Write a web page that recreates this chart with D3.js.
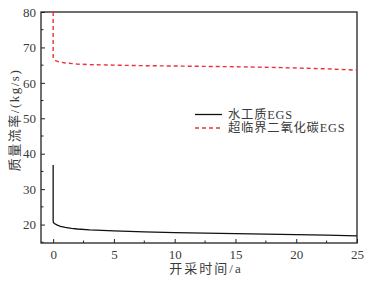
<!DOCTYPE html>
<html><head><meta charset="utf-8">
<script src="https://cdn.jsdelivr.net/npm/d3@7"></script>
<style>body{margin:0;background:#fff}svg{display:block}</style>
</head><body><div id="c"></div>
<script>
const xTicks = [0, 5, 10, 15, 20, 25];
const yTicks = [20, 30, 40, 50, 60, 70, 80];
const seriesNames = ["水工质EGS", "超临界二氧化碳EGS"];
const waterT = [0, 0, 0.02, 0.1, 0.3, 0.6, 1, 1.5, 2, 3, 5, 7.5, 10, 12.5, 15, 17.5, 20, 22.5, 25];
const waterV = [36.8, 21.2, 20.6, 20.3, 19.9, 19.5, 19.2, 18.95, 18.75, 18.5, 18.2, 17.95, 17.75, 17.6, 17.45, 17.3, 17.15, 17.0, 16.8];
const co2T = [0, 0, 0.05, 0.2, 0.5, 1, 2, 3, 5, 7.5, 10, 12.5, 15, 17.5, 20, 22.5, 25];
const co2V = [80, 67.2, 66.8, 66.3, 65.9, 65.6, 65.3, 65.15, 65.0, 64.85, 64.75, 64.65, 64.55, 64.4, 64.2, 63.95, 63.6];

const W = 372, H = 281;
const m = {l: 41, r: 15, t: 12, b: 38};
const svg = d3.select("#c").append("svg").attr("width", W).attr("height", H);
const x = d3.scaleLinear().domain([-1, 25]).range([m.l, W - m.r]);
const y = d3.scaleLinear().domain([14.8, 80]).range([H - m.b, m.t]);
const font = "'Liberation Serif','Noto Sans CJK SC',serif";
const txt = "#3a3a3a";

svg.append("defs").append("clipPath").attr("id", "cp").append("rect")
  .attr("x", m.l).attr("y", m.t).attr("width", W - m.l - m.r).attr("height", H - m.t - m.b);

// frame
svg.append("rect").attr("x", m.l).attr("y", m.t).attr("width", W - m.l - m.r).attr("height", H - m.t - m.b)
  .attr("fill", "none").attr("stroke", "#222").attr("stroke-width", 1.3);

// x axis
const xa = svg.append("g").attr("transform", `translate(0,${H - m.b})`)
  .call(d3.axisBottom(x).tickValues(xTicks).tickSize(-4).tickPadding(7).tickFormat(d3.format("d")));
xa.select(".domain").remove();
xa.selectAll("text").attr("font-family", font).attr("font-size", 13).attr("fill", txt);
xa.selectAll("line").attr("stroke", "#222");
const xMinor = d3.range(2.5, 25, 5);
svg.append("g").selectAll("line").data(xMinor).join("line")
  .attr("x1", d => x(d)).attr("x2", d => x(d)).attr("y1", H - m.b).attr("y2", H - m.b - 2.5).attr("stroke", "#222");

// y axis
const ya = svg.append("g").attr("transform", `translate(${m.l},0)`)
  .call(d3.axisLeft(y).tickValues(yTicks).tickSize(-4).tickPadding(5).tickFormat(d3.format("d")));
ya.select(".domain").remove();
ya.selectAll("text").attr("font-family", font).attr("font-size", 13).attr("fill", txt);
ya.selectAll("line").attr("stroke", "#222");
const yMinor = d3.range(15, 80, 10);
svg.append("g").selectAll("line").data(yMinor).join("line")
  .attr("x1", m.l).attr("x2", m.l + 2.5).attr("y1", d => y(d)).attr("y2", d => y(d)).attr("stroke", "#222");

// lines
const line = d3.line().x(d => x(d[0])).y(d => y(d[1]));
const g = svg.append("g").attr("clip-path", "url(#cp)");
g.append("path").datum(waterT.map((t, i) => [t, waterV[i]]))
  .attr("d", line).attr("fill", "none").attr("stroke", "#111").attr("stroke-width", 1.3);
g.append("path").datum(co2T.map((t, i) => [t, co2V[i]]))
  .attr("d", line).attr("fill", "none").attr("stroke", "#e8333a").attr("stroke-width", 1.4)
  .attr("stroke-dasharray", "4,3");

// legend
const lg = svg.append("g");
lg.append("line").attr("x1", 195).attr("x2", 222).attr("y1", 114.5).attr("y2", 114.5)
  .attr("stroke", "#111").attr("stroke-width", 1.3);
lg.append("line").attr("x1", 195).attr("x2", 222).attr("y1", 128).attr("y2", 128)
  .attr("stroke", "#e8333a").attr("stroke-width", 1.4).attr("stroke-dasharray", "4,3");
lg.selectAll("text").data(seriesNames).join("text")
  .attr("x", 228).attr("y", (d, i) => 118.5 + i * 13.5)
  .attr("font-family", font).attr("font-size", 12.3).attr("letter-spacing", 0.8).attr("fill", txt).text(d => d);

// axis titles
svg.append("text").attr("x", 206).attr("y", 273).attr("text-anchor", "middle")
  .attr("font-family", font).attr("font-size", 13).attr("letter-spacing", 2).attr("fill", txt).text("开采时间/a");
svg.append("text").attr("transform", `translate(19,120) rotate(-90)`)
  .attr("text-anchor", "middle").attr("font-family", font).attr("font-size", 13).attr("letter-spacing", 1.5).attr("fill", txt)
  .text("质量流率/(kg/s)");
</script></body></html>
